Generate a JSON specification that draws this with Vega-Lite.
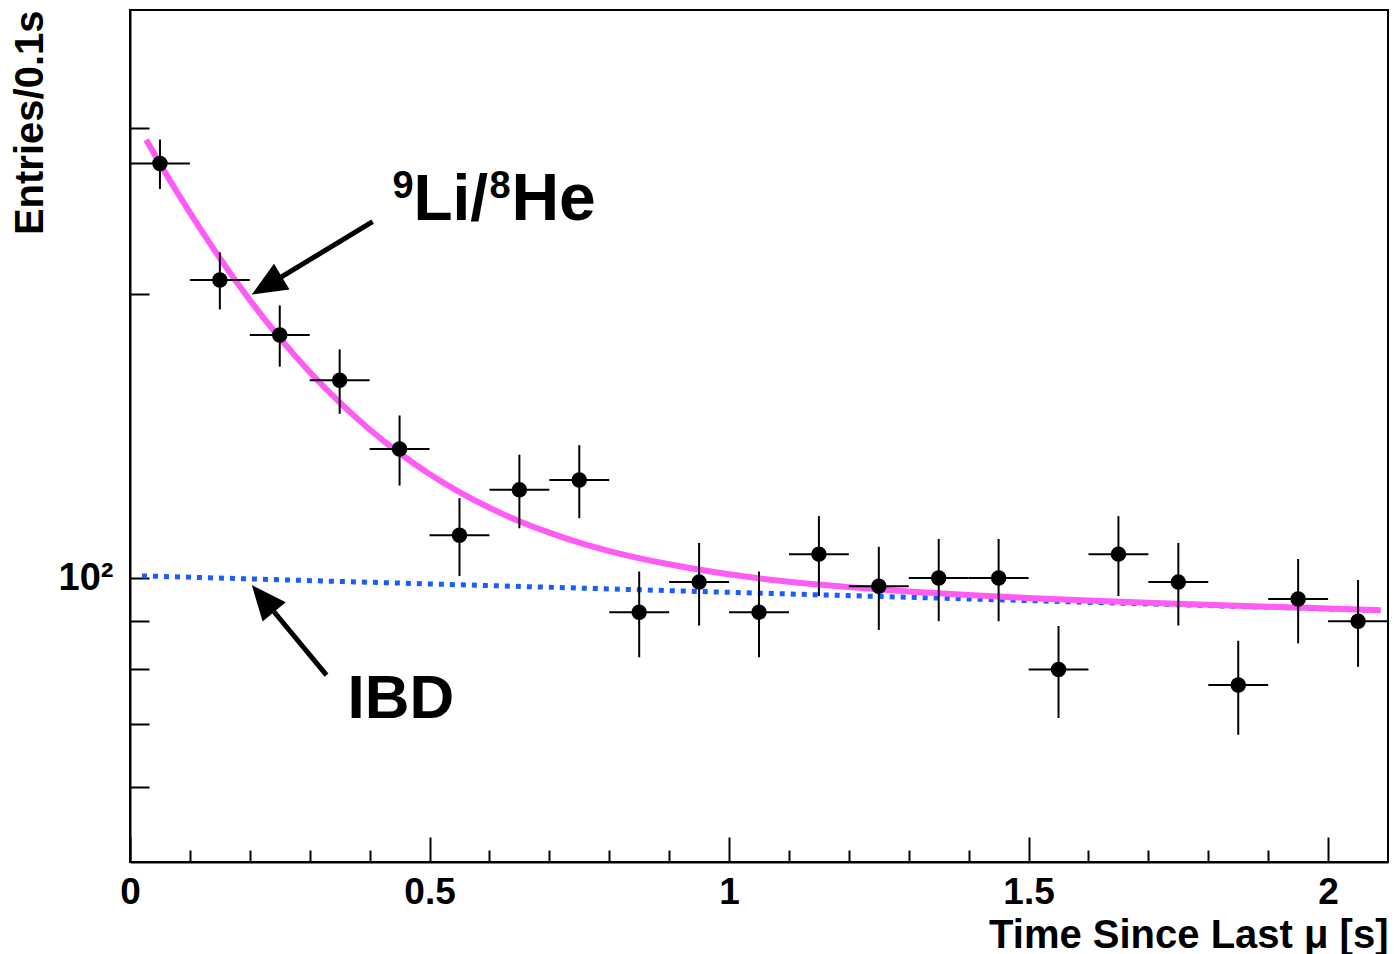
{
  "$schema": "https://vega.github.io/schema/vega-lite/v6.json",
  "width": 1258,
  "height": 852,
  "autosize": {"type": "none"},
  "padding": {"left": 130, "top": 10, "right": 6, "bottom": 92},
  "background": "white",
  "config": {
    "view": {"stroke": "black", "strokeWidth": 2},
    "font": "Liberation Sans"
  },
  "datasets": {
    "pts": [
      {"t": 0.05, "lo": 0.0, "hi": 0.1, "v": 275, "elo": 258.4, "ehi": 291.6},
      {"t": 0.15, "lo": 0.1, "hi": 0.2, "v": 207, "elo": 192.6, "ehi": 221.4},
      {"t": 0.25, "lo": 0.2, "hi": 0.3, "v": 181, "elo": 167.5, "ehi": 194.5},
      {"t": 0.35, "lo": 0.3, "hi": 0.4, "v": 162, "elo": 149.3, "ehi": 174.7},
      {"t": 0.45, "lo": 0.4, "hi": 0.5, "v": 137, "elo": 125.3, "ehi": 148.7},
      {"t": 0.55, "lo": 0.5, "hi": 0.6, "v": 111, "elo": 100.5, "ehi": 121.5},
      {"t": 0.65, "lo": 0.6, "hi": 0.7, "v": 124, "elo": 112.9, "ehi": 135.1},
      {"t": 0.75, "lo": 0.7, "hi": 0.8, "v": 127, "elo": 115.7, "ehi": 138.3},
      {"t": 0.85, "lo": 0.8, "hi": 0.9, "v": 92, "elo": 82.4, "ehi": 101.6},
      {"t": 0.95, "lo": 0.9, "hi": 1.0, "v": 99, "elo": 89.05, "ehi": 108.95},
      {"t": 1.05, "lo": 1.0, "hi": 1.1, "v": 92, "elo": 82.4, "ehi": 101.6},
      {"t": 1.15, "lo": 1.1, "hi": 1.2, "v": 106, "elo": 95.7, "ehi": 116.3},
      {"t": 1.25, "lo": 1.2, "hi": 1.3, "v": 98, "elo": 88.1, "ehi": 107.9},
      {"t": 1.35, "lo": 1.3, "hi": 1.4, "v": 100, "elo": 90, "ehi": 110},
      {"t": 1.45, "lo": 1.4, "hi": 1.5, "v": 100, "elo": 90, "ehi": 110},
      {"t": 1.55, "lo": 1.5, "hi": 1.6, "v": 80, "elo": 71.06, "ehi": 88.94},
      {"t": 1.65, "lo": 1.6, "hi": 1.7, "v": 106, "elo": 95.7, "ehi": 116.3},
      {"t": 1.75, "lo": 1.7, "hi": 1.8, "v": 99, "elo": 89.05, "ehi": 108.95},
      {"t": 1.85, "lo": 1.8, "hi": 1.9, "v": 77, "elo": 68.2, "ehi": 85.8},
      {"t": 1.95, "lo": 1.9, "hi": 2.0, "v": 95, "elo": 85.25, "ehi": 104.75},
      {"t": 2.05, "lo": 2.0, "hi": 2.1, "v": 90, "elo": 80.5, "ehi": 99.5}
    ],
    "fit": [
      {"t": 0.027, "v": 291.4}, {"t": 0.05, "v": 274.9}, {"t": 0.1, "v": 243.9},
      {"t": 0.15, "v": 218.3}, {"t": 0.2, "v": 197.1}, {"t": 0.25, "v": 179.7},
      {"t": 0.3, "v": 165.3}, {"t": 0.35, "v": 153.5}, {"t": 0.4, "v": 143.7},
      {"t": 0.45, "v": 135.6}, {"t": 0.5, "v": 128.9}, {"t": 0.55, "v": 123.3},
      {"t": 0.6, "v": 118.7}, {"t": 0.65, "v": 114.86}, {"t": 0.7, "v": 111.7},
      {"t": 0.75, "v": 109.0}, {"t": 0.8, "v": 106.8}, {"t": 0.9, "v": 103.4},
      {"t": 1.0, "v": 100.9}, {"t": 1.1, "v": 99.1}, {"t": 1.2, "v": 97.8},
      {"t": 1.3, "v": 96.75}, {"t": 1.4, "v": 95.92}, {"t": 1.5, "v": 95.25},
      {"t": 1.6, "v": 94.67}, {"t": 1.7, "v": 94.14}, {"t": 1.8, "v": 93.68},
      {"t": 1.9, "v": 93.24}, {"t": 2.0, "v": 92.82}, {"t": 2.088, "v": 92.45}
    ],
    "ibd": [
      {"t": 0.02, "v": 100.52}, {"t": 0.25, "v": 99.57}, {"t": 0.5, "v": 98.56},
      {"t": 0.75, "v": 97.57}, {"t": 1.0, "v": 96.56}, {"t": 1.25, "v": 95.6},
      {"t": 1.5, "v": 94.63}, {"t": 1.75, "v": 93.68}, {"t": 2.07, "v": 92.47}
    ],
    "arrows": [
      {"name": "li", "t": 0.405, "v": 238.6, "t2": 0.239, "v2": 206.0},
      {"name": "ibd", "t": 0.328, "v": 78.9, "t2": 0.23, "v2": 93.8}
    ],
    "heads": [
      {"name": "li", "t": 0.2033, "v": 199.7},
      {"name": "ibd", "t": 0.2033, "v": 98.3}
    ],
    "labels": [
      {"part": "9", "t": 0.438, "v": 239.8},
      {"part": "Li/", "t": 0.438, "v": 239.8},
      {"part": "8", "t": 0.438, "v": 239.8},
      {"part": "He", "t": 0.438, "v": 239.8},
      {"part": "IBD", "t": 0.363, "v": 71.1}
    ]
  },
  "encoding": {
    "x": {
      "field": "t", "type": "quantitative",
      "scale": {"domain": [0, 2.1], "nice": false, "zero": false},
      "axis": {
        "title": "Time Since Last μ [s]",
        "titleAnchor": "end",
        "titleFont": "Liberation Sans",
        "titleFontSize": 40,
        "titleFontWeight": "bold",
        "titleColor": "black",
        "titlePadding": -8,
        "values": [0, 0.1, 0.2, 0.3, 0.4, 0.5, 0.6, 0.7, 0.8, 0.9, 1, 1.1, 1.2, 1.3, 1.4, 1.5, 1.6, 1.7, 1.8, 1.9, 2],
        "format": "~g",
        "labelExpr": "indexof([0, 0.5, 1, 1.5, 2], datum.value) >= 0 ? datum.label : ''",
        "tickSize": {"condition": {"test": "indexof([0, 0.5, 1, 1.5, 2], datum.value) >= 0", "value": -25}, "value": -12},
        "tickWidth": 2,
        "tickColor": "black",
        "domainColor": "black",
        "domainWidth": 2,
        "grid": false,
        "labelFlush": false,
        "labelOverlap": false,
        "labelPadding": 37,
        "labelFont": "Liberation Sans",
        "labelFontSize": 37,
        "labelFontWeight": "bold",
        "labelColor": "black"
      }
    },
    "y": {
      "field": "v", "type": "quantitative",
      "scale": {"type": "log", "domain": [50, 400], "nice": false},
      "axis": {
        "title": "Entries/0.1s",
        "titleAnchor": "end",
        "titleFont": "Liberation Sans",
        "titleFontSize": 40,
        "titleFontWeight": "bold",
        "titleColor": "black",
        "titlePadding": 8,
        "values": [60, 70, 80, 90, 100, 200, 300],
        "labelExpr": "datum.value === 100 ? '10²' : ''",
        "tickSize": -19,
        "tickWidth": 2,
        "tickColor": "black",
        "domainColor": "black",
        "domainWidth": 2,
        "grid": false,
        "labelOverlap": false,
        "labelPadding": 36,
        "labelFont": "Liberation Sans",
        "labelFontSize": 38,
        "labelFontWeight": "bold",
        "labelColor": "black"
      }
    }
  },
  "layer": [
    {
      "data": {"name": "ibd"},
      "mark": {"type": "line", "color": "#1a5cff", "strokeWidth": 5, "strokeDash": [5, 6], "strokeCap": "butt"}
    },
    {
      "data": {"name": "fit"},
      "mark": {"type": "line", "color": "#ff5cf5", "strokeWidth": 6, "interpolate": "monotone"}
    },
    {
      "data": {"name": "pts"},
      "mark": {"type": "rule", "color": "black", "strokeWidth": 2},
      "encoding": {
        "x": {"field": "lo", "type": "quantitative", "axis": {"title": "Time Since Last μ [s]"}},
        "x2": {"field": "hi"}
      }
    },
    {
      "data": {"name": "pts"},
      "mark": {"type": "rule", "color": "black", "strokeWidth": 2},
      "encoding": {
        "y": {"field": "elo", "type": "quantitative", "axis": {"title": "Entries/0.1s"}},
        "y2": {"field": "ehi"}
      }
    },
    {
      "data": {"name": "pts"},
      "mark": {"type": "point", "shape": "circle", "filled": true, "color": "black", "opacity": 1, "size": 240}
    },
    {
      "data": {"name": "arrows"},
      "mark": {"type": "rule", "color": "black", "strokeWidth": 5},
      "encoding": {
        "x2": {"field": "t2"},
        "y2": {"field": "v2"}
      }
    },
    {
      "data": {"name": "heads"},
      "transform": [{"filter": "datum.name === 'li'"}],
      "mark": {"type": "point", "shape": "M0,0L-0.43,1L0.43,1Z", "filled": true, "color": "black", "opacity": 1, "size": 4900, "angle": 238.9}
    },
    {
      "data": {"name": "heads"},
      "transform": [{"filter": "datum.name === 'ibd'"}],
      "mark": {"type": "point", "shape": "M0,0L-0.43,1L0.43,1Z", "filled": true, "color": "black", "opacity": 1, "size": 4900, "angle": 320.2}
    },
    {
      "data": {"name": "labels"},
      "transform": [{"filter": "datum.part === '9'"}],
      "mark": {"type": "text", "align": "left", "baseline": "alphabetic", "font": "Liberation Sans", "fontWeight": "bold", "fontSize": 38, "dy": -22, "color": "black"},
      "encoding": {"text": {"field": "part"}}
    },
    {
      "data": {"name": "labels"},
      "transform": [{"filter": "datum.part === 'Li/'"}],
      "mark": {"type": "text", "align": "left", "baseline": "alphabetic", "font": "Liberation Sans", "fontWeight": "bold", "fontSize": 64, "dx": 21, "color": "black"},
      "encoding": {"text": {"field": "part"}}
    },
    {
      "data": {"name": "labels"},
      "transform": [{"filter": "datum.part === '8'"}],
      "mark": {"type": "text", "align": "left", "baseline": "alphabetic", "font": "Liberation Sans", "fontWeight": "bold", "fontSize": 38, "dx": 97, "dy": -22, "color": "black"},
      "encoding": {"text": {"field": "part"}}
    },
    {
      "data": {"name": "labels"},
      "transform": [{"filter": "datum.part === 'He'"}],
      "mark": {"type": "text", "align": "left", "baseline": "alphabetic", "font": "Liberation Sans", "fontWeight": "bold", "fontSize": 66, "dx": 119, "color": "black"},
      "encoding": {"text": {"field": "part"}}
    },
    {
      "data": {"name": "labels"},
      "transform": [{"filter": "datum.part === 'IBD'"}],
      "mark": {"type": "text", "align": "left", "baseline": "alphabetic", "font": "Liberation Sans", "fontWeight": "bold", "fontSize": 62, "color": "black"},
      "encoding": {"text": {"field": "part"}}
    }
  ]
}
